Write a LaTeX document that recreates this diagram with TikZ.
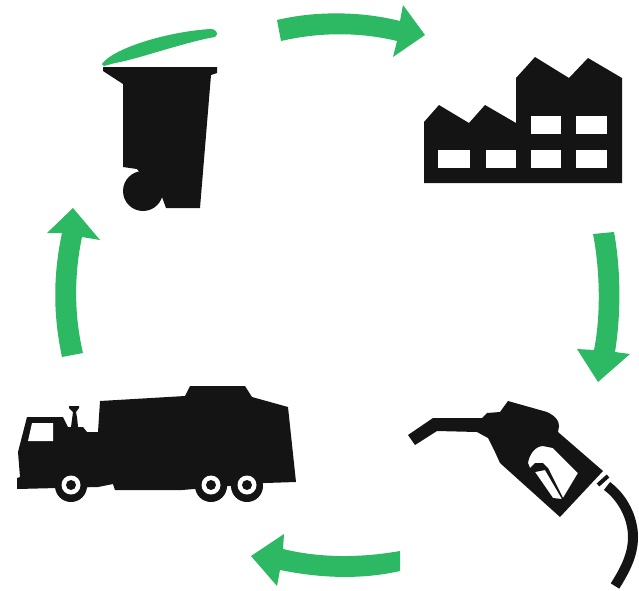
\documentclass[tikz,border=0pt]{standalone}
\usepackage{xcolor}
\definecolor{cIcon}{HTML}{141414}
\definecolor{cGreen}{HTML}{2DB963}
\usepackage{tikz}
\tikzset{
  icon-fill/.style={fill=cIcon,draw=none},
  icon-hole/.style={fill=white,draw=none},
  arrow-fill/.style={fill=cGreen,draw=none},
  icon-line/.style={draw=cIcon,line cap=butt},
}
\begin{document}
\begin{tikzpicture}[x=0.75pt,y=-0.75pt]
  \useasboundingbox (0,0) rectangle (639,590);
  % bin
  \fill[arrow-fill] (102,64) .. controls (112,49) and (165,32) .. (210,29)
    .. controls (217,29) and (219,34) .. (215,37)
    .. controls (185,42) and (135,60) .. (115,63) -- (104,66) -- cycle;
  \fill[icon-fill] (103,67) -- (217,67) -- (217,73) -- (211,75) -- (200,208)
    -- (166,208) -- (162,197) -- (150,185) -- (137,169) -- (123,167) -- (123,84)
    -- (103,71) -- cycle;
  \fill[icon-fill] (143,191) circle (20);
  % factory
  \fill[icon-fill] (424,183) -- (424,122) -- (439,105) -- (469,123) -- (485,105)
    -- (516,123) -- (516,78) -- (535,57) -- (569,78) -- (588,58) -- (622,78)
    -- (622,183) -- cycle;
  \foreach \wx/\wy/\ww in {438/150/32,486/150/30,531/150/30,576/150/31,
      531/116/30,576/116/31}
    \fill[icon-hole] (\wx,\wy) rectangle ++(\ww,18);
  % pump nozzle
  \fill[icon-fill,even odd rule] (408,435) -- (433,418) -- (482,418) -- (487,413) -- (500,412)
    -- (508,401) -- (547,412) .. controls (555,416) and (559,420) .. (559,426)
    -- (558,432) -- (603,471) -- (560,517) -- (500,463) -- (495,452) -- (488,438)
    -- (477,432) -- (437,431) -- (415,445) -- cycle
    (528,463) .. controls (529,455) and (535,446) .. (543,446) -- (553,448) -- (578,473) -- (563,498)
    -- (548,468) -- (543,463) -- (535,463) -- (530,468) -- cycle
    (535,472) -- (545,470) -- (562,499) -- (553,498) -- cycle;
  \draw[icon-line,line width=3pt] (598,485) -- (608,476);
  \draw[icon-line,line width=7.5pt] (607,486) .. controls (622,497) and (633,517) .. (633,537)
    .. controls (633,555) and (625,570) .. (615,586);
  % truck
  \fill[icon-fill] (17,478) -- (20,477) -- (18,452) -- (27,417) -- (63,417) -- (68,427)
    -- (71,427) -- (73,412) -- (69,408) -- (69,406) -- (79,406) -- (79,408) -- (76,412)
    -- (77,417) -- (78,427) -- (83,427) -- (87,432) -- (98,432) -- (100,401) -- (185,396)
    -- (190,386) -- (245,386) -- (252,397) -- (288,407) -- (296,482) -- (265,483)
    -- (182,490) -- (115,490) -- (113,484) -- (98,487) -- (17,489) -- cycle;
  \fill[icon-hole] (32,423) -- (53,423) -- (53,441) -- (28,441) -- cycle;
  \foreach \wx in {71,211,247} {
    \fill[icon-fill] (\wx,486) circle (16);
    \fill[icon-hole] (\wx,485) circle (9.5);
    \fill[icon-fill] (\wx,485) circle (5);
  }
  % green arrows, clockwise from top
  \fill[arrow-fill] (277,20) .. controls (315,11) and (360,11) .. (400,21) -- (403,5) -- (425,35)
    -- (393,57) -- (397,41) .. controls (360,32) and (320,32) .. (281,41) -- cycle;
  \fill[arrow-fill] (593,234) -- (614,232) .. controls (621,270) and (621,315) .. (615,352)
    -- (630,354) -- (598,382) -- (577,349) -- (594,350) .. controls (601,315) and (600,270) .. (593,234) -- cycle;
  \fill[arrow-fill] (400,551) -- (400,571) .. controls (360,580) and (320,578) .. (280,570)
    -- (277,586) -- (251,556) -- (284,534) -- (283,549) .. controls (320,558) and (360,558) .. (400,551) -- cycle;
  \fill[arrow-fill] (62,357) -- (83,353) .. controls (74,315) and (74,275) .. (82,237)
    -- (100,240) -- (73,208) -- (47,233) -- (62,233) .. controls (53,275) and (53,315) .. (62,357) -- cycle;
\end{tikzpicture}
\end{document}
